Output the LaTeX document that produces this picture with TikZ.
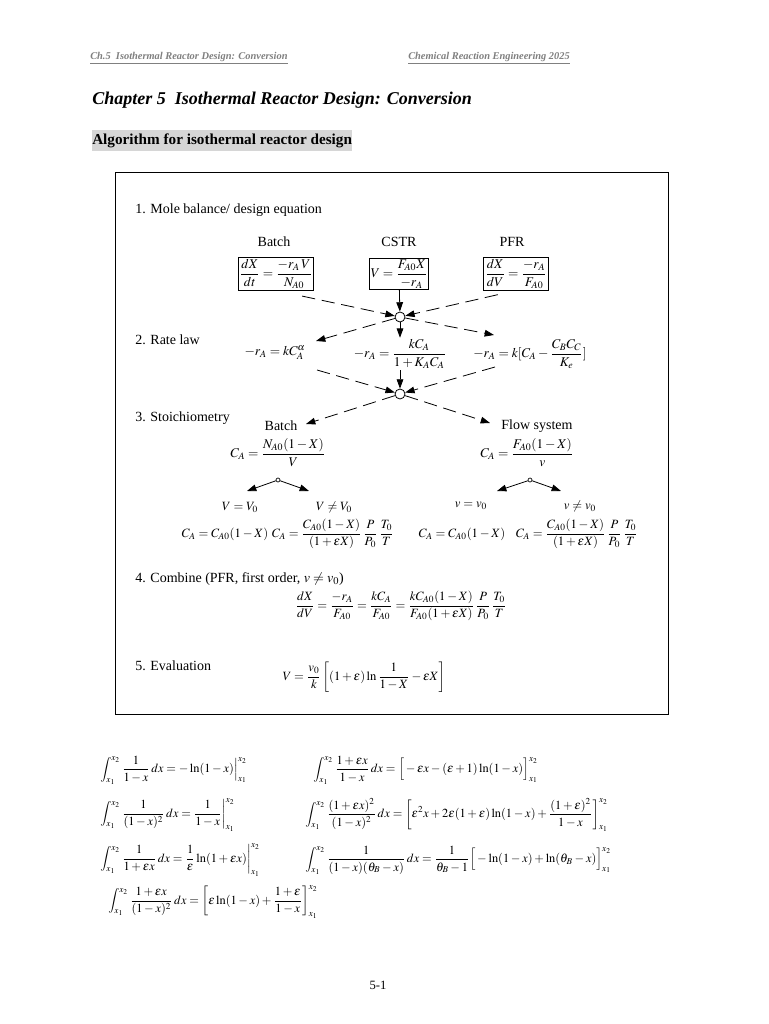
\documentclass[tikz,border=0pt]{standalone}
\usepackage{mathptmx}
\usepackage{fontspec}
\setmainfont{Liberation Serif}
\usetikzlibrary{arrows.meta,calc}
\begin{document}
\begin{tikzpicture}[x=0.75pt,y=-0.75pt,
  hdr/.style={font=\fontsize{7.8}{9}\selectfont\bfseries\itshape, text=gray, inner sep=0, anchor=base west},
  steplbl/.style={font=\fontsize{10.5}{12}\selectfont, inner sep=0, anchor=base west},
  rlbl/.style={font=\fontsize{10.5}{12}\selectfont, inner sep=0},
  eqn/.style={font=\fontsize{10}{12}\selectfont, inner sep=1pt},
  eqs/.style={font=\fontsize{9.5}{11}\selectfont, inner sep=1pt},
  eqbox/.style={eqn, draw, line width=0.6pt, inner sep=1pt},
  inteq/.style={font=\fontsize{9.3}{11}\selectfont, inner sep=0, anchor=west},
  junc/.style={circle, draw, fill=white, minimum size=7.5pt, inner sep=0, line width=0.6pt},
  sjunc/.style={circle, draw, fill=white, minimum size=3pt, inner sep=0, line width=0.5pt},
  darr/.style={line width=0.6pt, dash pattern=on 10pt off 5pt, -{Triangle[length=7pt,width=5pt]}},
  sarr/.style={line width=0.6pt, -{Triangle[length=7pt,width=5pt]}}
]
\useasboundingbox (0,0) rectangle (768,1024);
\fill[white] (0,0) rectangle (768,1024);

% header
\node[hdr] (h1) at (90,60) {\underline{Ch.5\ \ Isothermal Reactor Design: Conversion}};
\node[hdr] (h2) at (408,60) {\underline{Chemical Reaction Engineering 2025}};
\node[font=\fontsize{13.5}{16}\selectfont\bfseries\itshape, inner sep=0, anchor=base west] (title) at (92,104) {Chapter 5\ \ Isothermal Reactor Design: Conversion};
\node[font=\fontsize{11.4}{13}\selectfont\bfseries, fill=black!16, inner xsep=0pt, inner ysep=2.5pt, anchor=base west] (sub) at (92,144) {Algorithm for isothermal reactor design};

% frame
\draw[line width=0.6pt] (115,172) rectangle (668,714);

% step labels
\node[steplbl] (s1) at (135,213) {1. Mole balance/ design equation};
\node[steplbl] (s2) at (135,344) {2. Rate law};
\node[steplbl] (s3) at (135,421) {3. Stoichiometry};
\node[steplbl] (s4) at (135,582) {4. Combine (PFR, first order, $v\neq v_0$)};
\node[steplbl] (s5) at (135,670) {5. Evaluation};

% reactor labels
\node[rlbl] (lb) at (274,242) {Batch};
\node[rlbl] (lc) at (399,242) {CSTR};
\node[rlbl] (lp) at (512,242) {PFR};

% design equations
\node[eqbox] (bb) at (276,274) {$\displaystyle \frac{dX}{dt}=\frac{-r_A\,V}{N_{A0}}$};
\node[eqbox] (cb) at (399,274) {$\displaystyle V=\frac{F_{A0}X}{-r_A}$};
\node[eqbox] (pb) at (516,274) {$\displaystyle \frac{dX}{dV}=\frac{-r_A}{F_{A0}}$};

\node[junc] (j1) at (400,317) {};
\draw[darr, shorten <=20pt] (bb.south) -- (j1);
\draw[darr, shorten <=14pt] (pb.south) -- (j1);
\draw[sarr] (cb) -- (j1);

% rate laws
\node[eqn] (rl1) at (275,353) {$-r_A=kC_A^{\alpha}$};
\node[eqn] (rl2) at (400,354) {$\displaystyle -r_A=\frac{kC_A}{1+K_AC_A}$};
\node[eqn] (rl3) at (530,354) {$\displaystyle -r_A=k[C_A-\frac{C_BC_C}{K_e}]$};

\coordinate (a1) at (316,341);
\coordinate (a3) at (494,335);
\draw[darr] (j1) -- (a1);
\draw[sarr] (j1) -- (rl2);
\draw[darr] (j1) -- (a3);

\node[junc] (j2) at (400,394) {};
\coordinate (b1) at (317,370);
\coordinate (b3) at (495,367);
\draw[darr] (b1) -- (j2);
\draw[darr] (b3) -- (j2);
\draw[sarr] (rl2) -- (j2);

% stoichiometry
\node[rlbl] (sb) at (281,426) {Batch};
\node[rlbl] (sf) at (537,426) {Flow system};
\coordinate (c1) at (306,424);
\coordinate (c3) at (490,423);
\draw[darr] (j2) -- (c1);
\draw[darr] (j2) -- (c3);

\node[eqn] (ca1) at (278,453) {$\displaystyle C_A=\frac{N_{A0}(1-X)}{V}$};
\node[eqn] (ca2) at (527,453) {$\displaystyle C_A=\frac{F_{A0}(1-X)}{v}$};

\node[sjunc] (js1) at (278,480) {};
\node[sjunc] (js2) at (530,480) {};
\coordinate (d1) at (247,491);
\coordinate (d2) at (309,491);
\coordinate (d3) at (497,491);
\coordinate (d4) at (561,491);
\draw[sarr] (js1) -- (d1);
\draw[sarr] (js1) -- (d2);
\draw[sarr] (js2) -- (d3);
\draw[sarr] (js2) -- (d4);

\node[eqs] (v1) at (240,507) {$V=V_0$};
\node[eqs] (v2) at (334,507) {$V\neq V_0$};
\node[eqs] (v3) at (471,506) {$v=v_0$};
\node[eqs] (v4) at (580,506) {$v\neq v_0$};

\node[eqs] (k1) at (225,534) {$C_A=C_{A0}(1-X)$};
\node[eqs] (k2) at (333,534) {$\displaystyle C_A=\frac{C_{A0}(1-X)}{(1+\varepsilon X)}\,\frac{P}{P_0}\,\frac{T_0}{T}$};
\node[eqs] (k3) at (462,534) {$C_A=C_{A0}(1-X)$};
\node[eqs] (k4) at (577,534) {$\displaystyle C_A=\frac{C_{A0}(1-X)}{(1+\varepsilon X)}\,\frac{P}{P_0}\,\frac{T_0}{T}$};

% combine
\node[eqs] (comb) at (401,606) {$\displaystyle \frac{dX}{dV}=\frac{-r_A}{F_{A0}}=\frac{kC_A}{F_{A0}}=\frac{kC_{A0}(1-X)}{F_{A0}(1+\varepsilon X)}\,\frac{P}{P_0}\,\frac{T_0}{T}$};

% evaluation
\node[eqs] (ev) at (364,677) {$\displaystyle V=\frac{v_0}{k}\left[(1+\varepsilon)\ln\frac{1}{1-X}-\varepsilon X\right]$};

% integrals
\node[inteq] (i1) at (100,770) {$\displaystyle \int_{x_1}^{x_2}\frac{1}{1-x}\,dx=-\ln(1-x)\Big|_{x_1}^{x_2}$};
\node[inteq] (i2) at (313,770) {$\displaystyle \int_{x_1}^{x_2}\frac{1+\varepsilon x}{1-x}\,dx=\Big[-\varepsilon x-(\varepsilon+1)\ln(1-x)\Big]_{x_1}^{x_2}$};
\node[inteq] (i3) at (100,815) {$\displaystyle \int_{x_1}^{x_2}\frac{1}{(1-x)^2}\,dx=\frac{1}{1-x}\bigg|_{x_1}^{x_2}$};
\node[inteq] (i4) at (305,815) {$\displaystyle \int_{x_1}^{x_2}\frac{(1+\varepsilon x)^2}{(1-x)^2}\,dx=\left[\varepsilon^2x+2\varepsilon(1+\varepsilon)\ln(1-x)+\frac{(1+\varepsilon)^2}{1-x}\right]_{x_1}^{x_2}$};
\node[inteq] (i5) at (100,860) {$\displaystyle \int_{x_1}^{x_2}\frac{1}{1+\varepsilon x}\,dx=\frac{1}{\varepsilon}\ln(1+\varepsilon x)\bigg|_{x_1}^{x_2}$};
\node[inteq] (i6) at (305,860) {$\displaystyle \int_{x_1}^{x_2}\frac{1}{(1-x)(\theta_B-x)}\,dx=\frac{1}{\theta_B-1}\Big[-\ln(1-x)+\ln(\theta_B-x)\Big]_{x_1}^{x_2}$};
\node[inteq] (i7) at (108,902) {$\displaystyle \int_{x_1}^{x_2}\frac{1+\varepsilon x}{(1-x)^2}\,dx=\left[\varepsilon\ln(1-x)+\frac{1+\varepsilon}{1-x}\right]_{x_1}^{x_2}$};

% page number
\node[font=\fontsize{9.5}{11}\selectfont, inner sep=0] (pg) at (378,985) {5-1};
\end{tikzpicture}
\end{document}
